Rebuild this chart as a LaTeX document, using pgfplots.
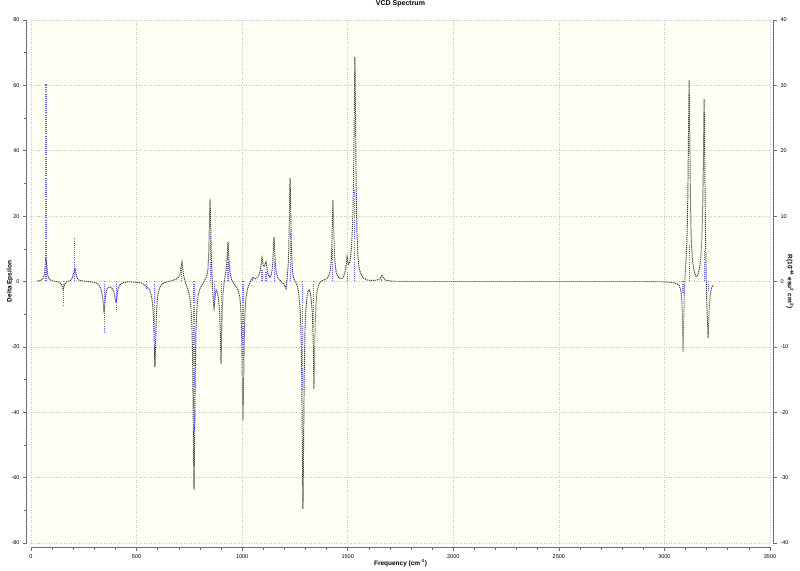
\documentclass[border=0pt]{standalone}
\usepackage{pgfplots}
\pgfplotsset{compat=1.18}
\usepackage{fontspec}
\setmainfont{Liberation Sans}
\definecolor{bgyel}{RGB}{255,255,243}
\definecolor{stickblue}{RGB}{95,95,255}
\definecolor{axgray}{RGB}{110,110,110}
\begin{document}
\begin{tikzpicture}
\useasboundingbox (0pt,0pt) rectangle (800pt,570pt);
\begin{axis}[
  at={(31pt,27pt)}, anchor=south west,
  width=739pt, height=523pt, scale only axis,
  xmin=0, xmax=3500, ymin=-80, ymax=80,
  axis background/.style={fill=bgyel},
  axis x line*=bottom, axis y line*=left,
  axis x line shift=4pt, axis y line shift=4pt,
  axis line style={axgray, line width=1pt},
  xtick={0,500,...,3500}, minor x tick num=4,
  ytick={-80,-60,...,80}, minor y tick num=1,
  tick align=outside, major tick length=4pt, minor tick length=2.5pt,
  tick style={axgray, line width=0.6pt},
  grid=major, grid style={black!22, line width=0.6pt, dash pattern=on 1pt off 1.5pt},
  /pgf/number format/assume math mode=true,
  /pgf/number format/1000 sep={},
  ticklabel style={font=\fontsize{5.5}{6}\selectfont},
  xlabel={Frequency (cm\textsuperscript{-1})},
  ylabel={Delta Epsilon},
  label style={font=\bfseries\fontsize{6.5}{7}\selectfont},
  xlabel style={at={(axis description cs:0.5,-0.038)}, anchor=center},
  ylabel style={at={(axis description cs:-0.0284,0.5)}, anchor=center},
  title={VCD Spectrum},
  title style={font=\bfseries\fontsize{7}{8}\selectfont, at={(axis description cs:0.5,1.019)}, anchor=center},
]
\addplot[color=black!75, line width=0.95pt, dash pattern=on 1.2pt off 0.8pt] coordinates {
(30,0.2)(45,0.3)(55,0.7)(61,1.6)(65,3.0)(68,5.5)(71,7.5)(74,5.5)(77,3.0)(81,1.6)(87,0.7)(100,0.2)(120,0)(135,-0.3)(142,-0.7)(146,-1.2)(149,-1.9)(152,-2.5)(155,-1.9)(158,-1.2)(162,-0.6)(172,0)(188,0.4)(194,0.9)(198,1.6)(202,2.5)(205,3.3)(208,4.1)(211,3.2)(214,2.2)(218,1.2)(225,0.5)(240,0.2)(270,0)
(300,-0.3)(316,-0.7)(326,-1.5)(331,-2.3)(336,-3.6)(340,-5.3)(343,-7.3)(346,-9.5)(349,-7.3)(352,-5.2)(356,-3.2)(362,-2.0)(372,-1.6)(382,-1.9)(390,-2.8)(394,-3.6)(397,-4.6)(400,-5.7)(403,-6.5)(406,-5.2)(409,-3.6)(413,-2.1)(420,-1.0)(435,-0.4)(460,-0.1)(500,-0.2)(525,-0.5)(535,-0.9)(541,-1.3)(546,-1.7)(549,-1.9)(552,-1.9)(557,-2.1)(563,-2.8)(567,-3.6)(572,-5.0)(577,-7.8)(581,-12.0)(584,-19.3)(587,-26.2)(590,-19.3)(593,-12.0)(597,-6.5)(602,-3.8)(608,-2.2)(617,-1.1)(630,-0.4)(650,0)
(670,0.3)(690,0.8)(700,1.4)(705,2.2)(709,3.6)(712,4.8)(715,6.0)(718,4.4)(721,2.6)(725,1.2)(730,0)(737,-1.3)(745,-2.7)(752,-4.7)(757,-7.5)(762,-13.5)(766,-26)(769,-47)(772,-63.8)(775,-47)(778,-26.5)(782,-13.5)(787,-7)(792,-4.2)(800,-2.2)(812,-0.8)(822,0.3)(830,1.3)(835,2.4)(838,3.8)(842,9)(845,18)(848,25.2)(851,17.5)(854,8)(857,2)(861,-3)(864,-6.5)(867,-8.1)(870,-6.2)(873,-3.8)(877,-2.6)(882,-3.2)(887,-4.8)(891,-7.5)(894,-10.5)(897,-16.5)(900,-25.2)(903,-16.5)(906,-8.5)(910,-3.5)(915,0)(920,1.8)(924,3.5)(927,5.5)(930,8.8)(933,12.1)(936,8.8)(939,5.2)(943,2.6)(950,0.6)(960,-0.6)(972,-1.6)(982,-3.0)(989,-4.8)(994,-8.5)(998,-17.5)(1001,-31.5)(1004,-42.7)(1007,-31.5)(1010,-17.5)(1014,-8.5)(1019,-4.6)(1026,-2.2)(1035,-0.6)(1043,0.6)(1048,1.1)(1051,1.3)(1055,1.1)(1062,0.9)
(1070,1.2)(1078,1.8)(1084,2.9)(1088,4.2)(1091,5.6)(1094,7.2)(1097,6.0)(1100,4.9)(1104,4.6)(1107,5.0)(1110,5.6)(1113,6.0)(1116,4.7)(1120,3.0)(1126,1.7)(1132,1.3)(1138,2.0)(1142,3.6)(1145,5.8)(1148,10.0)(1151,13.6)(1154,10.0)(1157,5.6)(1161,3.0)(1168,1.3)(1178,0.4)(1190,-0.3)(1198,-0.9)(1203,-1.5)(1206,-2.0)(1208,-2.2)(1211,-0.5)(1215,2.5)(1218,5)(1221,10)(1224,21)(1227,31.6)(1230,22)(1233,11)(1237,4.5)(1242,1.5)(1248,0.3)(1255,-0.4)(1262,-1.4)(1268,-3.5)(1274,-8)(1278,-14)(1282,-27)(1285,-50)(1288,-69.6)(1291,-50)(1294,-28)(1298,-14)(1303,-7.5)(1308,-4.2)(1313,-2.8)(1318,-2.6)(1323,-3.6)(1328,-6)(1332,-9.5)(1335,-14)(1337,-20)(1340,-32.9)(1343,-22)(1346,-13)(1350,-6.5)(1355,-3)(1362,-1.2)(1370,-0.2)(1380,0.3)(1395,0.7)
(1405,1.2)(1412,2.0)(1418,3.6)(1422,6.5)(1425,11)(1427,17)(1430,24.9)(1433,17.5)(1436,10.5)(1440,5.5)(1445,3)(1452,1.6)(1462,1.0)(1472,0.9)(1480,1.5)(1486,2.6)(1490,3.8)(1494,5.8)(1497,7.5)(1500,6.2)(1504,5.3)(1508,5.6)(1513,7.2)(1518,10.5)(1522,16)(1525,22)(1528,33)(1531,51)(1534,68.7)(1537,51)(1540,29)(1544,14.5)(1549,7.2)(1554,4.2)(1562,2.3)(1575,1.0)(1595,0.4)(1625,0.3)(1645,0.6)(1654,1.0)(1659,1.6)(1662,2.0)(1665,1.6)(1670,1.0)(1680,0.4)(1710,0.1)(1800,0)
(2000,0)(2500,0)(2900,0)(3000,-0.1)(3040,-0.3)(3060,-0.7)(3070,-1.3)(3076,-2.4)(3080,-4)(3083,-7)(3085,-11)(3088,-21.6)(3091,-13)(3094,-4.5)(3097,1)(3101,5)(3105,10)(3108,16)(3111,27)(3114,45)(3117,61.6)(3120,45)(3123,26)(3127,13)(3132,7)(3138,4)(3145,2.2)(3150,1.5)(3155,1.6)(3162,2.8)(3168,4.8)(3173,8)(3177,13)(3181,22)(3184,34)(3186,45)(3188,55.8)(3190,44)(3192,30)(3195,12)(3198,0)(3201,-7)(3204,-12.5)(3207,-17.3)(3210,-12)(3213,-7.5)(3217,-4)(3222,-2.2)(3228,-1.3)(3232,-1)
};
\end{axis}
\begin{axis}[
  at={(31pt,27pt)}, anchor=south west,
  width=739pt, height=523pt, scale only axis,
  xmin=0, xmax=3500, ymin=-40, ymax=40,
  axis x line=none, xtick=\empty,
  axis y line*=right, axis y line shift=3pt,
  axis line style={axgray, line width=1pt},
  ytick={-40,-30,...,40},
  tick align=outside, major tick length=4pt,
  tick style={axgray, line width=0.6pt},
  /pgf/number format/assume math mode=true,
  ticklabel style={font=\fontsize{5.5}{6}\selectfont},
  ylabel={R(10\textsuperscript{-44} esu\textsuperscript{2} cm\textsuperscript{2})},
  label style={font=\bfseries\fontsize{6.5}{7}\selectfont},
  ylabel style={at={(axis description cs:1.027,0.5)}, anchor=center, rotate=180},
]
\addplot[ycomb, color=stickblue, draw=stickblue, line width=1.05pt, dash pattern=on 1pt off 1.1pt, mark=none] coordinates {
(71,30.2)(152,-3.6)(208,6.6)(346,-7.9)(403,-4.5)(549,-1.0)(587,-13)(715,2.5)(772,-23.6)(848,7)(867,-2.7)(900,-8)(933,4.5)(1004,-12.2)(1051,0.4)(1094,1.9)(1113,1.5)(1151,3.4)(1208,-0.6)(1227,7.4)(1288,-16.5)(1340,-7)(1430,5)(1497,1.4)(1534,14)(1662,0.4)(3088,-1.8)(3117,5.6)(3188,4.8)(3207,-1.6)
};
\end{axis}
\end{tikzpicture}
\end{document}
